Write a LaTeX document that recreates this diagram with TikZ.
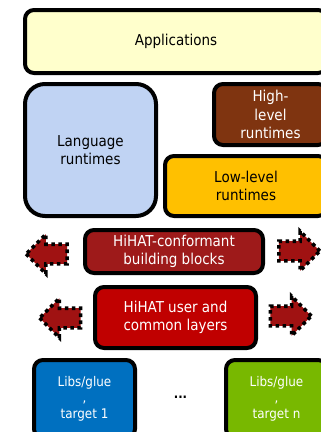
\documentclass[tikz,border=0pt]{standalone}
\usepackage{fontspec}
\setmainfont{DejaVu Sans Condensed}
\usetikzlibrary{positioning}
\usetikzlibrary{shapes.arrows}
\definecolor{appyellow}{HTML}{FFFFCC}
\definecolor{langblue}{HTML}{C0D3F3}
\definecolor{highbrown}{HTML}{7F3410}
\definecolor{loworange}{HTML}{FFC000}
\definecolor{blockred}{HTML}{9E1A1A}
\definecolor{userred}{HTML}{C00000}
\definecolor{libblue}{HTML}{0070C0}
\definecolor{libgreen}{HTML}{78B800}
\definecolor{arrowred}{HTML}{A01212}
\tikzset{
  layer/.style={draw=black,line width=4pt,rounded corners=9pt,align=center,inner sep=0pt,
    font=\fontsize{15pt}{18.5pt}\selectfont},
  darklayer/.style={layer,text=white},
  libbox/.style={darklayer,font=\fontsize{13.3pt}{16pt}\selectfont},
  sidearrow/.style={single arrow,draw=black,fill=arrowred,line width=3.6pt,
    dash pattern=on 3.6pt off 3.4pt,minimum height=41pt,minimum width=0pt,
    inner xsep=0pt,inner ysep=8pt,single arrow head extend=10pt}
}

\begin{document}
\begin{tikzpicture}[x=1pt,y=-1pt]
		\useasboundingbox (0,0) rectangle (321,432);
		\node[layer,fill=appyellow,minimum width=302pt,minimum height=63pt] (apps) at (176,41.5) {Applications};
		\node[layer,fill=langblue,rounded corners=20pt,minimum width=131pt,minimum height=132pt] (lang) at (90.5,150) {Language\\runtimes};
		\node[darklayer,fill=highbrown,minimum width=113pt,minimum height=61pt] (high) at (270.5,114.5) {High-\\level\\runtimes};
		\node[layer,fill=loworange,minimum width=162pt,minimum height=60pt] (low) at (246,186) {Low-level\\runtimes};
		\node[darklayer,fill=blockred,minimum width=178pt,minimum height=43pt] (blocks) at (174,251.5) {HiHAT-conformant\\building blocks};
		\node[darklayer,fill=userred,minimum width=161pt,minimum height=61pt] (user) at (175.5,317.5) {HiHAT user and\\common layers};
		\node[libbox,fill=libblue,minimum width=101pt,minimum height=78pt] (lib1) at (84.5,399) {Libs/glue\\,\\target 1};
		\node[libbox,fill=libgreen,minimum width=101pt,minimum height=78pt] (libn) at (276.5,399) {Libs/glue\\,\\target n};
		\node[font=\fontsize{13pt}{16pt}\selectfont] (dots) at (180.5,397) {\textbf{...}};
		% arrows at both sides of the HiHAT layers
		\node[sidearrow,shape border rotate=180] (blkleft) at (51.5,254) {};
		\node[sidearrow] (blkright) at (294.5,251) {};
		\node[sidearrow,shape border rotate=180] (usrleft) at (65,318) {};
		\node[sidearrow] (usrright) at (286,316) {};
	\end{tikzpicture}
\end{document}
